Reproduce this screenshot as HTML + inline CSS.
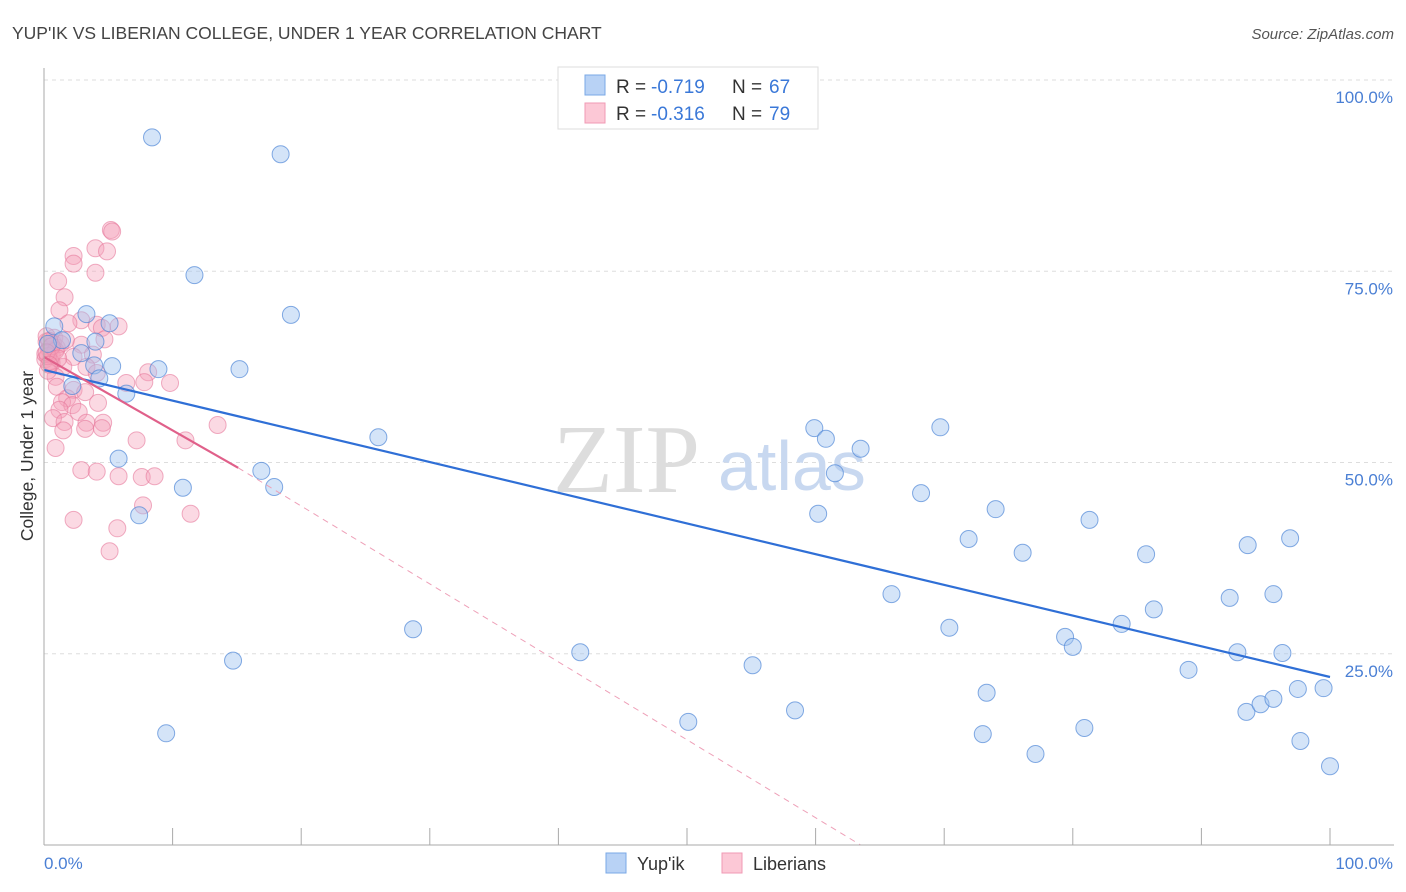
<!DOCTYPE html>
<html><head><meta charset="utf-8"><style>
body{margin:0;background:#fff;font-family:"Liberation Sans",sans-serif;}
svg{display:block}
</style></head><body>
<svg id="chart" width="1406" height="892" font-family="Liberation Sans, sans-serif">
<text x="12" y="39" font-size="17.5" fill="#444">YUP'IK VS LIBERIAN COLLEGE, UNDER 1 YEAR CORRELATION CHART</text>
<text x="1394" y="39" font-size="15" fill="#555" font-style="italic" text-anchor="end">Source: ZipAtlas.com</text>
<g id="grid"></g>
<text x="553" y="492" font-size="98" fill="#ddd" font-family="Liberation Serif, serif">ZIP</text>
<text x="718" y="490" font-size="70" fill="#c8d8f0">atlas</text>
<g id="pts"></g>
<g id="lines"></g>
<g id="axes"></g>
<text x="33" y="456" font-size="17.5" fill="#333" text-anchor="middle" transform="rotate(-90 33 456)">College, Under 1 year</text>
<text x="44" y="869" font-size="17" fill="#4a7fd4">0.0%</text>
<text x="1393" y="869" font-size="17" fill="#4a7fd4" text-anchor="end">100.0%</text>
<g>
<rect x="558" y="67" width="260" height="62" fill="#fff" stroke="#ddd"/>
<rect x="585" y="75" width="20" height="20" fill="#b8d2f5" stroke="#7aa8e6"/>
<rect x="585" y="103" width="20" height="20" fill="#fcc8d6" stroke="#f09ab4"/>
<text x="616" y="93" font-size="19" fill="#333">R =</text>
<text x="651" y="93" font-size="19" fill="#3a78d8">-0.719</text>
<text x="732" y="93" font-size="19" fill="#333">N =</text>
<text x="769" y="93" font-size="19" fill="#3a78d8">67</text>
<text x="616" y="120" font-size="19" fill="#333">R =</text>
<text x="651" y="120" font-size="19" fill="#3a78d8">-0.316</text>
<text x="732" y="120" font-size="19" fill="#333">N =</text>
<text x="769" y="120" font-size="19" fill="#3a78d8">79</text>
</g>
<g>
<rect x="606" y="853" width="20" height="20" fill="#b8d2f5" stroke="#7aa8e6"/>
<text x="637" y="870" font-size="18" fill="#333">Yup'ik</text>
<rect x="722" y="853" width="20" height="20" fill="#fcc8d6" stroke="#f09ab4"/>
<text x="753" y="870" font-size="18" fill="#333">Liberians</text>
</g>
</svg>
<script>
const yTicks=[25,50,75,100];
const yTickLabels=["25.0%","50.0%","75.0%","100.0%"];
const blueX=[8.4,18.4,11.7,19.2,3.3,5.1,0.8,1.4,4.0,2.9,5.3,3.9,8.9,15.2,4.3,6.4,2.2,5.8,16.9,10.8,17.9,7.4,26.0,28.7,14.7,9.5,41.7,50.1,55.1,58.4,59.9,60.8,61.5,60.2,63.5,65.9,68.2,69.7,70.4,71.9,73.3,73.0,74.0,76.1,77.1,79.4,80.0,80.9,81.3,83.8,85.7,86.3,89.0,92.2,92.8,93.5,93.6,94.6,95.6,95.6,96.3,96.9,97.5,97.7,99.5,100,0.3];
const blueY=[92.5,90.3,74.5,69.3,69.4,68.2,67.8,66.0,65.8,64.3,62.6,62.7,62.2,62.2,61.0,59.0,60.0,50.5,48.9,46.7,46.8,43.1,53.3,28.2,24.1,14.6,25.2,16.1,23.5,17.6,54.5,53.1,48.6,43.3,51.8,32.8,46.0,54.6,28.4,40.0,19.9,14.5,43.9,38.2,11.9,27.2,25.9,15.3,42.5,28.9,38.0,30.8,22.9,32.3,25.2,17.4,39.2,18.4,19.1,32.8,25.1,40.1,20.4,13.6,20.5,10.3,65.5];
const pinkX=[5.2,5.3,4.0,4.9,2.3,2.3,4.0,1.1,1.6,1.2,2.9,1.9,4.1,5.8,4.5,4.7,0.7,0.5,2.9,3.8,2.3,0.6,1.5,3.3,8.1,7.8,9.8,6.4,0.9,4.1,1.0,2.3,3.2,1.8,1.4,4.2,2.2,1.2,2.7,0.7,1.6,3.3,4.6,4.5,3.2,1.5,13.5,7.2,11.0,0.9,2.9,4.1,5.8,7.6,8.6,7.7,11.4,2.3,5.7,5.1,0.2,0.4,0.1,0.8,0.3,1.0,0.6,0.2,0.5,1.3,0.1,0.4,0.9,0.3,1.7,0.6,0.2,1.1,0.4];
const pinkY=[80.4,80.2,78.0,77.6,77.0,76.0,74.8,73.7,71.6,69.9,68.6,68.2,68.0,67.8,67.6,66.1,65.6,64.7,65.4,64.1,63.8,63.0,62.5,62.5,61.8,60.5,60.4,60.4,61.2,61.7,59.9,59.5,59.2,58.4,57.9,57.8,57.5,56.9,56.6,55.8,55.3,55.2,55.2,54.5,54.4,54.2,54.9,52.9,52.9,51.9,49.0,48.8,48.2,48.1,48.2,44.4,43.3,42.5,41.4,38.4,65.8,64.8,63.5,66.3,62.0,65.0,64.0,66.5,63.2,65.5,64.2,65.9,64.6,63.9,66.0,65.2,64.4,63.6,62.8];
const blueLine=[[0,62.1],[100,21.96]];
const pinkLine=[[0,63.8],[15.1,49.3]];
const pinkDash=[[15.1,49.3],[63.5,0]];
const X=v=>44+12.86*v, Y=v=>845-7.65*v;
const NS="http://www.w3.org/2000/svg";
function mk(t,a,p){const e=document.createElementNS(NS,t);for(const k in a)e.setAttribute(k,a[k]);p.appendChild(e);return e;}
const grid=document.getElementById('grid');
yTicks.forEach((t,i)=>{
  const l=mk('line',{x1:44,x2:1394,y1:Y(t),y2:Y(t),stroke:'#ddd','stroke-dasharray':'4,4'},grid);
  
  
  const tx=mk('text',{x:1393,y:Y(t)+23,'font-size':17,fill:'#4a7fd4','text-anchor':'end'},grid);
  tx.textContent=yTickLabels[i];
  
  
});
const axes=document.getElementById('axes');
const ya=mk('line',{x1:44,x2:44,y1:68,y2:845,stroke:'#aaa'},axes);


const xa=mk('line',{x1:44,x2:1394,y1:845,y2:845,stroke:'#aaa'},axes);


for(let i=0;i<=10;i++){
  const tk=mk('line',{x1:X(i*10),x2:X(i*10),y1:828,y2:845,stroke:'#aaa'},axes);
  
  
}
const pts=document.getElementById('pts');
pinkX.forEach((v,i)=>{
  const c=mk('circle',{cx:X(v),cy:Y(pinkY[i]),r:8.5,fill:'rgba(245,160,185,0.4)',stroke:'rgba(230,120,155,0.6)','stroke-width':1},pts);
  
  
});
blueX.forEach((v,i)=>{
  const c=mk('circle',{cx:X(v),cy:Y(blueY[i]),r:8.5,fill:'rgba(160,195,240,0.45)',stroke:'rgba(80,135,215,0.7)','stroke-width':1},pts);
  
  
});
const lines=document.getElementById('lines');
const bl=mk('line',{x1:X(blueLine[0][0]),y1:Y(blueLine[0][1]),x2:X(blueLine[1][0]),y2:Y(blueLine[1][1]),stroke:'#2f6fd6','stroke-width':2.2},lines);


const pl=mk('line',{x1:X(pinkLine[0][0]),y1:Y(pinkLine[0][1]),x2:X(pinkLine[1][0]),y2:Y(pinkLine[1][1]),stroke:'#e0608a','stroke-width':2.2},lines);


const pd=mk('line',{x1:X(pinkDash[0][0]),y1:Y(pinkDash[0][1]),x2:X(pinkDash[1][0]),y2:Y(pinkDash[1][1]),stroke:'#eea0b8','stroke-width':1,'stroke-dasharray':'6,5'},lines);


</script>
</body></html>
